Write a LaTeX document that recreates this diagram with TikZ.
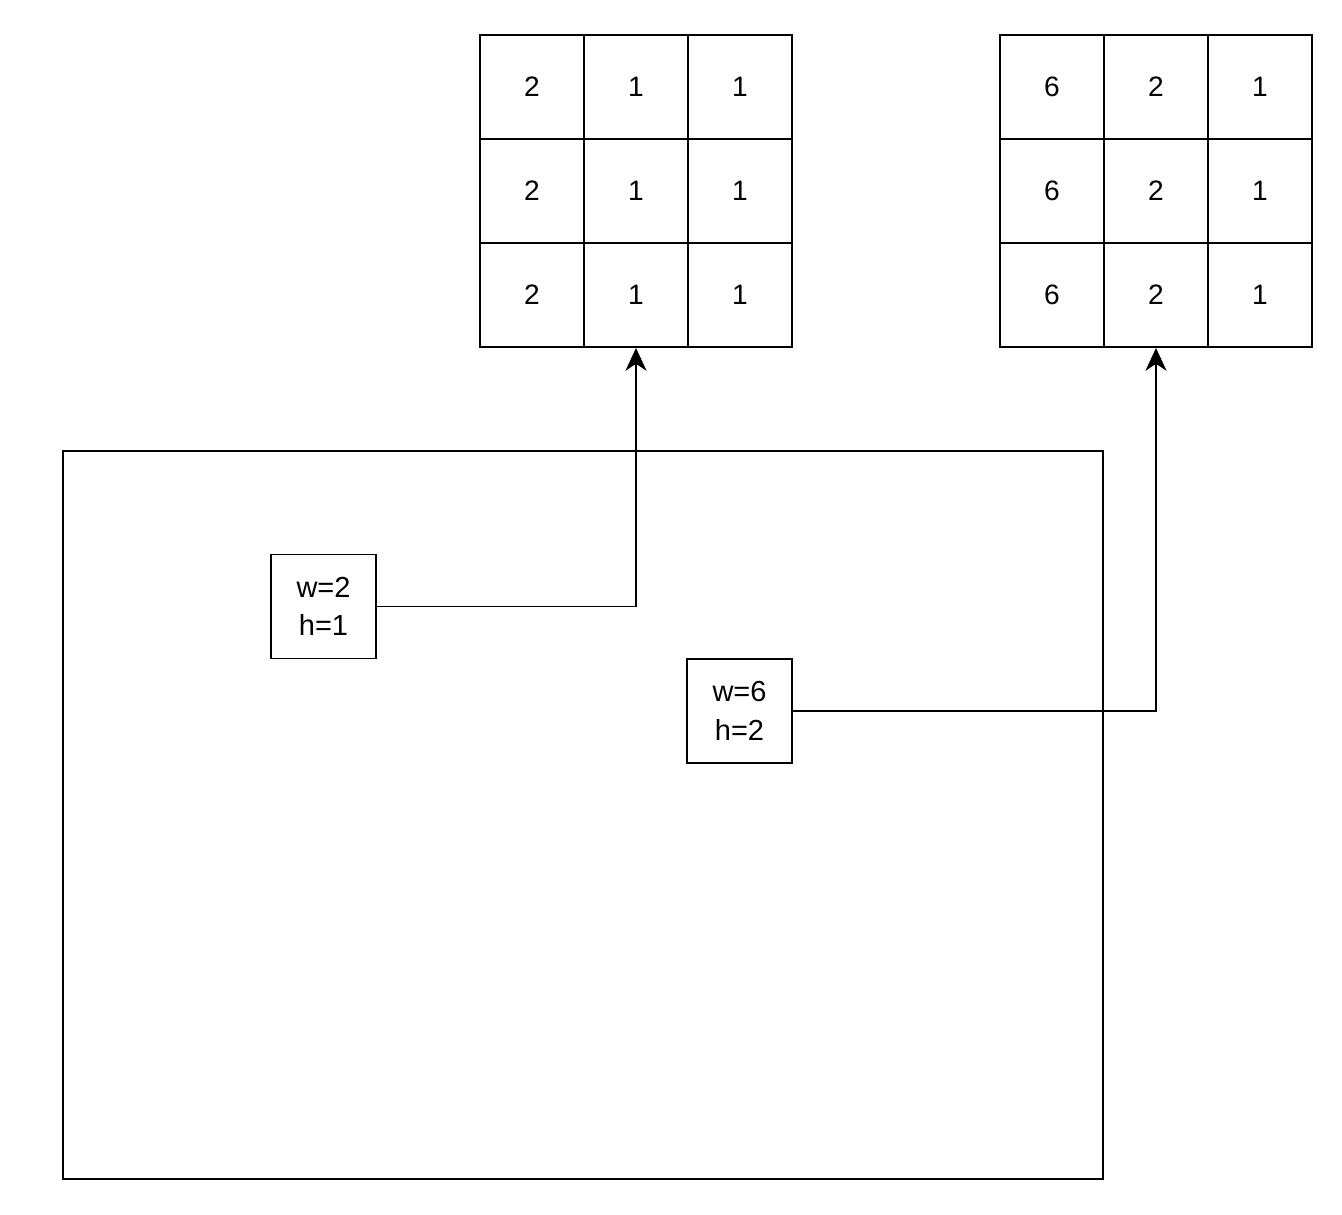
\documentclass[tikz,border=0pt]{standalone}
\usepackage{fontspec}
\setmainfont{Liberation Sans}
\usetikzlibrary{positioning,arrows.meta}

\tikzset{
  cell/.style={draw, line width=1.1pt, minimum size=2.08cm, inner sep=0pt, font=\fontsize{16}{19}\selectfont},
  sizebox/.style={draw, line width=1.1pt, minimum width=2.1cm, minimum height=2.08cm, align=center, inner sep=0pt, font=\fontsize{16.5}{22}\selectfont},
  link/.style={line width=1.1pt, -{Stealth[length=13pt,width=12pt,inset=4pt]}}
}

\begin{document}
\begin{tikzpicture}[x=0.02cm, y=-0.02cm]
	\useasboundingbox (0,0) rectangle (1342,1214);

	% 左边网格：每列的值
	\foreach \v [count=\c] in {2,1,1}
		\foreach \r in {1,2,3}
			\node[cell] (ga-\r-\c) at (428+104*\c, -17+104*\r) {\v};

	% 右边网格
	\foreach \v [count=\c] in {6,2,1}
		\foreach \r in {1,2,3}
			\node[cell] (gb-\r-\c) at (948+104*\c, -17+104*\r) {\v};

	% 大框
	\draw[line width=1.1pt] (63,451) rectangle (1103,1179);

	% 两个尺寸框
	\node[sizebox] (boxa) at (323.5,606.5) {w=2\\h=1};
	\node[sizebox] (boxb) at (739.5,711) {w=6\\h=2};

	% 连线
	\draw[link] (boxa.east) -| (ga-3-2.south);
	\draw[link] (boxb.east) -| (gb-3-2.south);
\end{tikzpicture}
\end{document}
